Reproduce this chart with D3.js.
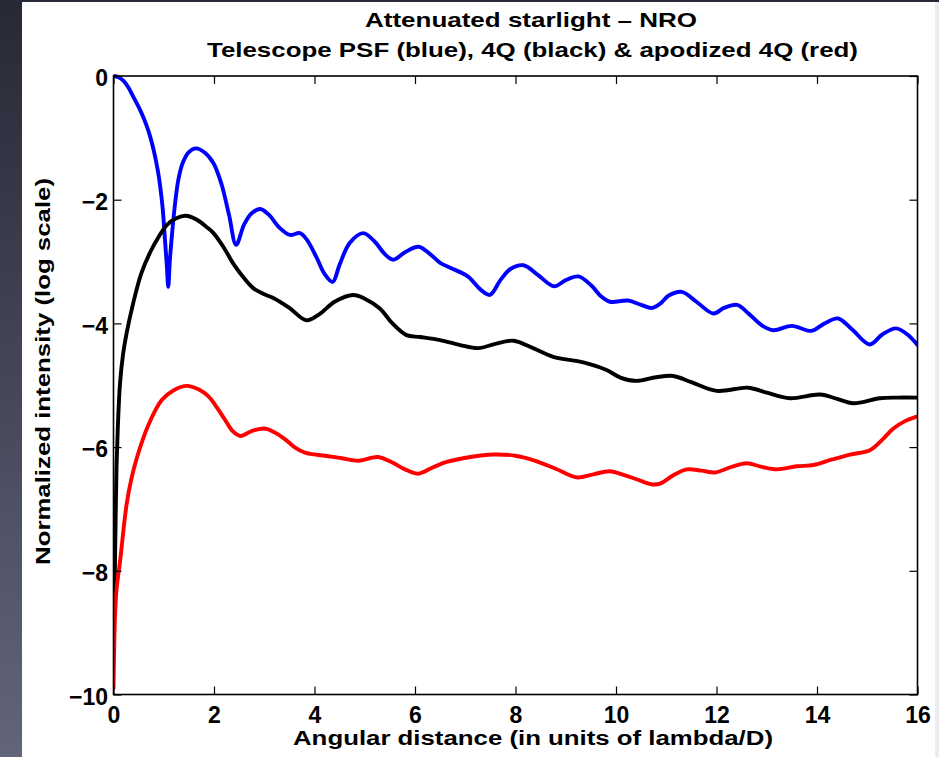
<!DOCTYPE html>
<html>
<head>
<meta charset="utf-8">
<script src="https://cdn.jsdelivr.net/npm/d3@7"></script>
<style>
  html, body { margin: 0; padding: 0; background: #2a2c3a; }
  svg { display: block; }
  text { font-family: "Liberation Sans", Arial, Helvetica, sans-serif; font-weight: bold; fill: #000; }
</style>
</head>
<body>
<svg id="chart" width="939" height="757"></svg>
<script>
// ---------- data ----------
const titleLines = ["Attenuated starlight \u2013 NRO", "Telescope PSF (blue), 4Q (black) & apodized 4Q (red)"];
const xLabel = "Angular distance (in units of lambda/D)";
const yLabel = "Normalized intensity (log scale)";
const xTicks = [0, 2, 4, 6, 8, 10, 12, 14, 16];
const yTicks = [0, -2, -4, -6, -8, -10];

// Telescope PSF (blue)
const psfX = [0, 0.1, 0.2, 0.3, 0.39, 0.5, 0.6, 0.7, 0.8, 0.88, 0.93, 0.98, 1.02, 1.06, 1.09, 1.12, 1.16, 1.22, 1.29, 1.38, 1.5, 1.64, 1.82, 1.99, 2.15, 2.3, 2.44, 2.6, 2.75, 2.92, 3.1, 3.3, 3.51, 3.71, 3.85, 4.05, 4.2, 4.36, 4.5, 4.7, 4.97, 5.2, 5.4, 5.57, 5.8, 6.07, 6.3, 6.5, 6.7, 7.05, 7.3, 7.49, 7.7, 7.9, 8.16, 8.45, 8.77, 9.0, 9.25, 9.5, 9.7, 9.88, 10.24, 10.5, 10.71, 10.88, 11.05, 11.31, 11.6, 11.94, 12.15, 12.41, 12.65, 12.9, 13.13, 13.5, 13.89, 14.15, 14.42, 14.7, 15.05, 15.3, 15.57, 15.8, 16.0];
const psfY = [0, -0.02, -0.08, -0.19, -0.33, -0.5, -0.68, -0.9, -1.2, -1.52, -1.79, -2.15, -2.6, -3.05, -3.41, -3.0, -2.6, -2.1, -1.68, -1.4, -1.23, -1.17, -1.24, -1.41, -1.75, -2.25, -2.73, -2.4, -2.22, -2.15, -2.25, -2.45, -2.57, -2.54, -2.65, -2.95, -3.2, -3.33, -3.05, -2.7, -2.54, -2.68, -2.88, -2.97, -2.85, -2.76, -2.88, -3.02, -3.10, -3.24, -3.45, -3.54, -3.3, -3.12, -3.06, -3.22, -3.40, -3.3, -3.24, -3.38, -3.56, -3.65, -3.63, -3.7, -3.75, -3.68, -3.55, -3.49, -3.65, -3.84, -3.75, -3.70, -3.85, -4.03, -4.11, -4.04, -4.12, -4.0, -3.92, -4.1, -4.34, -4.18, -4.08, -4.18, -4.35];

// 4Q coronagraph (black)
const fqX = [0.02, 0.04, 0.06, 0.09, 0.13, 0.19, 0.26, 0.39, 0.55, 0.73, 0.9, 1.06, 1.25, 1.44, 1.65, 1.85, 1.99, 2.2, 2.38, 2.58, 2.78, 3.0, 3.18, 3.5, 3.84, 4.1, 4.4, 4.77, 5.0, 5.3, 5.55, 5.83, 6.1, 6.5, 6.9, 7.26, 7.6, 7.96, 8.35, 8.75, 9.35, 9.8, 10.1, 10.41, 10.8, 11.14, 11.5, 12.0, 12.63, 13.0, 13.46, 14.06, 14.4, 14.72, 15.25, 15.6, 16.0];
const fqY = [-8.4, -7.3, -6.32, -5.6, -4.97, -4.5, -4.16, -3.68, -3.2, -2.85, -2.6, -2.41, -2.3, -2.26, -2.32, -2.44, -2.54, -2.78, -3.03, -3.25, -3.43, -3.53, -3.59, -3.75, -3.95, -3.85, -3.65, -3.54, -3.6, -3.76, -4.0, -4.19, -4.22, -4.27, -4.35, -4.40, -4.33, -4.28, -4.4, -4.54, -4.63, -4.75, -4.88, -4.93, -4.87, -4.85, -4.95, -5.09, -5.04, -5.12, -5.21, -5.15, -5.22, -5.29, -5.21, -5.2, -5.20];

// apodized 4Q (red)
const apX = [0.0, 0.03, 0.06, 0.13, 0.26, 0.36, 0.47, 0.69, 0.96, 1.2, 1.46, 1.7, 1.89, 2.05, 2.22, 2.37, 2.52, 2.75, 3.01, 3.2, 3.41, 3.6, 3.81, 4.21, 4.55, 4.87, 5.1, 5.27, 5.55, 5.8, 6.06, 6.35, 6.63, 7.1, 7.56, 8.0, 8.35, 8.8, 9.22, 9.55, 9.88, 10.15, 10.41, 10.7, 10.88, 11.15, 11.41, 11.7, 11.97, 12.3, 12.6, 12.9, 13.2, 13.6, 13.93, 14.3, 14.66, 15.05, 15.3, 15.52, 15.75, 15.97];
const apY = [-9.9, -8.74, -8.3, -7.85, -6.93, -6.5, -6.16, -5.65, -5.24, -5.08, -5.01, -5.07, -5.18, -5.35, -5.56, -5.74, -5.82, -5.74, -5.70, -5.76, -5.87, -6.0, -6.09, -6.14, -6.18, -6.22, -6.18, -6.16, -6.25, -6.36, -6.43, -6.33, -6.24, -6.16, -6.12, -6.14, -6.21, -6.35, -6.49, -6.44, -6.39, -6.45, -6.52, -6.6, -6.59, -6.45, -6.36, -6.38, -6.41, -6.32, -6.26, -6.32, -6.36, -6.31, -6.29, -6.2, -6.12, -6.05, -5.88, -5.70, -5.58, -5.51];

const seriesList = [
  { name: "Telescope PSF", xs: psfX, ys: psfY, color: "#0000ff" },
  { name: "4Q", xs: fqX, ys: fqY, color: "#000000" },
  { name: "apodized 4Q", xs: apX, ys: apY, color: "#ff0000" }
];

// ---------- layout ----------
const W = 939, H = 757;
const plot = { left: 113.5, right: 917.5, top: 76, bottom: 694.5 };

const svg = d3.select("#chart");

// slide background
const defs = svg.append("defs");
const grad = defs.append("linearGradient").attr("id", "bgGrad")
  .attr("x1", 0).attr("y1", 0).attr("x2", 0).attr("y2", 1);
grad.append("stop").attr("offset", "0%").attr("stop-color", "#272936");
grad.append("stop").attr("offset", "100%").attr("stop-color", "#62647a");
svg.append("rect").attr("x", 0).attr("y", 0).attr("width", W).attr("height", H).attr("fill", "url(#bgGrad)");
svg.append("rect").attr("x", 22).attr("y", 2).attr("width", W - 22).attr("height", H - 2).attr("fill", "#ffffff");
svg.append("rect").attr("x", 935).attr("y", 2).attr("width", 4).attr("height", H - 2).attr("fill", "#ececf0");

defs.append("clipPath").attr("id", "plotClip").append("rect")
  .attr("x", plot.left).attr("y", plot.top - 3)
  .attr("width", plot.right - plot.left).attr("height", plot.bottom - plot.top + 3);

const x = d3.scaleLinear().domain([0, 16]).range([plot.left, plot.right]);
const y = d3.scaleLinear().domain([-10, 0]).range([plot.bottom, plot.top]);

// lines
const line = d3.line().x(d => x(d[0])).y(d => y(d[1])).curve(d3.curveCatmullRom.alpha(0.5));
const gLines = svg.append("g").attr("clip-path", "url(#plotClip)");
seriesList.forEach(s => {
  const pts = s.xs.map((v, i) => [v, s.ys[i]]);
  gLines.append("path").datum(pts)
    .attr("d", line)
    .attr("fill", "none")
    .attr("stroke", s.color)
    .attr("stroke-width", 3.9)
    .attr("stroke-linejoin", "round")
    .attr("stroke-linecap", "round");
});

// axes (inward ticks on all four sides)
const tickFont = 23;
const gx = svg.append("g").attr("transform", `translate(0,${plot.bottom})`)
  .call(d3.axisBottom(x).tickValues(xTicks).tickSizeInner(-8).tickSizeOuter(0).tickPadding(12.5).tickFormat(d3.format("d")));
const gy = svg.append("g").attr("transform", `translate(${plot.left},0)`)
  .call(d3.axisLeft(y).tickValues(yTicks).tickSizeInner(-8).tickSizeOuter(0).tickPadding(5.5).tickFormat(d3.format("d")));
const gxt = svg.append("g").attr("transform", `translate(0,${plot.top})`)
  .call(d3.axisTop(x).tickValues(xTicks).tickSizeInner(-8).tickSizeOuter(0).tickFormat(""));
const gyr = svg.append("g").attr("transform", `translate(${plot.right},0)`)
  .call(d3.axisRight(y).tickValues(yTicks).tickSizeInner(-8).tickSizeOuter(0).tickFormat(""));

[gx, gy, gxt, gyr].forEach(g => {
  g.select(".domain").remove();
  g.selectAll(".tick line").attr("stroke", "#000").attr("stroke-width", 1.2);
  g.selectAll("text").attr("font-size", tickFont).attr("font-family", null).style("font-weight", "bold").attr("fill", "#000");
});
gy.selectAll("text").attr("dy", "0.43em");

// box
svg.append("rect")
  .attr("x", plot.left).attr("y", plot.top)
  .attr("width", plot.right - plot.left).attr("height", plot.bottom - plot.top)
  .attr("fill", "none").attr("stroke", "#000").attr("stroke-width", 1.6);

// title
svg.append("text").attr("x", 531).attr("y", 27).attr("text-anchor", "middle")
  .attr("font-size", 21).attr("textLength", 332).attr("lengthAdjust", "spacingAndGlyphs")
  .text(titleLines[0]);
svg.append("text").attr("x", 532.5).attr("y", 57).attr("text-anchor", "middle")
  .attr("font-size", 21).attr("textLength", 651).attr("lengthAdjust", "spacingAndGlyphs")
  .text(titleLines[1]);

// axis labels
svg.append("text").attr("x", 533).attr("y", 745).attr("text-anchor", "middle")
  .attr("font-size", 20).attr("textLength", 480).attr("lengthAdjust", "spacingAndGlyphs")
  .text(xLabel);
svg.append("text").attr("transform", "translate(50,371.5) rotate(-90)").attr("text-anchor", "middle")
  .attr("font-size", 20).attr("textLength", 387).attr("lengthAdjust", "spacingAndGlyphs")
  .text(yLabel);
</script>
</body>
</html>
